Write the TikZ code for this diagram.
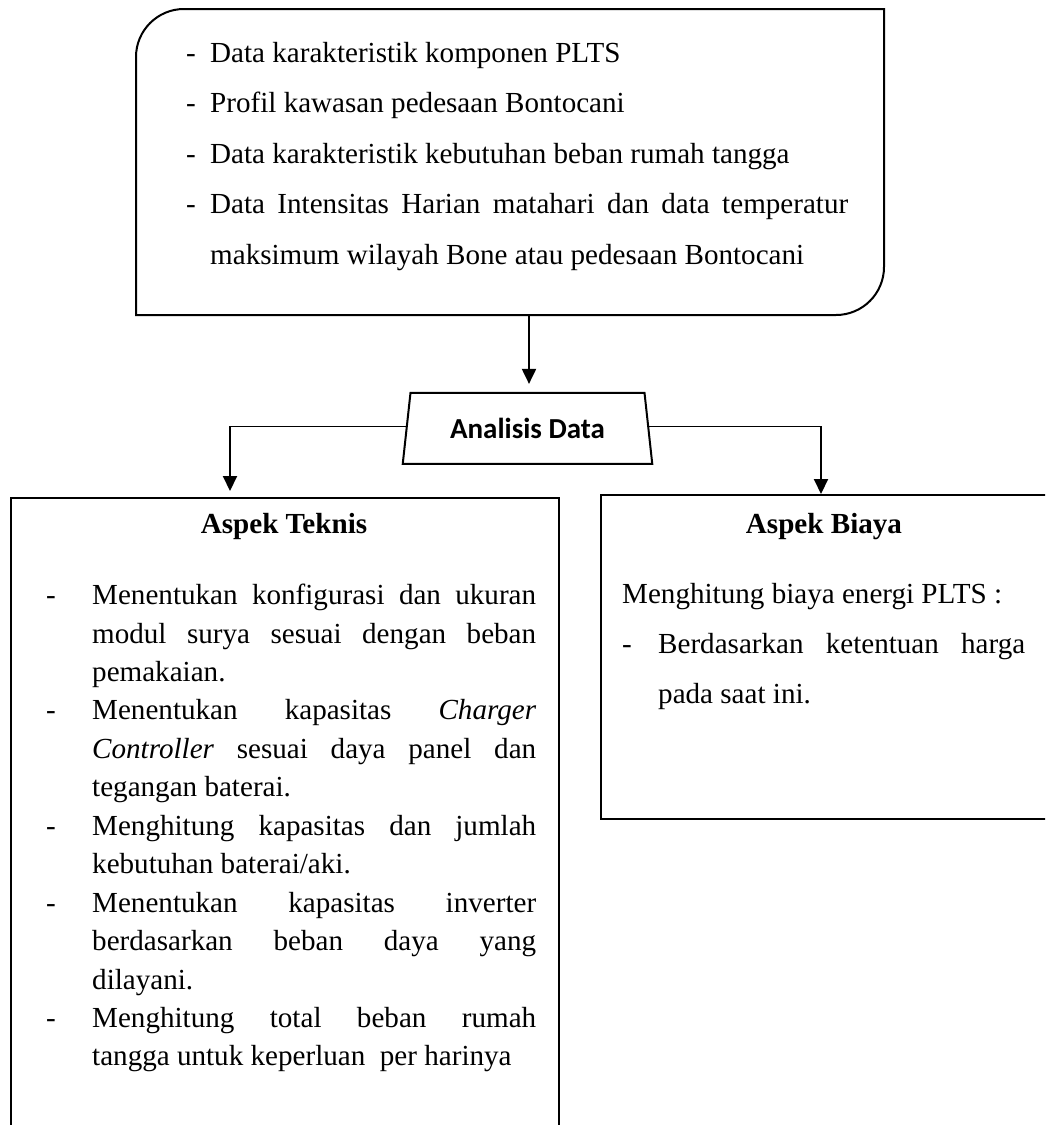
\documentclass[tikz,border=0pt]{standalone}
\usepackage{fontspec}
\setmainfont{Liberation Serif}
\newfontfamily\calibrifont{Carlito}
\usetikzlibrary{arrows.meta,shapes.geometric}
\newcommand\bodysize{\fontsize{29.1pt}{33.5pt}\selectfont}
\newcommand\jline[2]{\makebox[#1pt][s]{#2}}
\begin{document}
\begin{tikzpicture}[x=1pt,y=-1pt,
  boxline/.style={line width=2pt},
  thinline/.style={line width=1pt},
  arrowline/.style={line width=2pt,-{Triangle[length=15pt,width=14pt]}},
  txt/.style={anchor=base west,inner sep=0pt,font=\bodysize},
  head/.style={anchor=base,inner sep=0pt,font=\bodysize\bfseries},
  plainbox/.style={draw,boxline,anchor=north west,inner sep=0pt}]
\useasboundingbox (0,0) rectangle (1045,1125);
\fill[white] (0,0) rectangle (1045,1125);
\clip (0,0) rectangle (1045,1125);

% top data box (rounded top-left and bottom-right)
\draw[boxline] (136,200) [rounded corners=48pt] -- (136,9) -- (500,9)
  [sharp corners] -- (884,9) -- (884,200)
  [rounded corners=48pt] -- (884,315) -- (500,315)
  [sharp corners] -- (136,315) -- cycle;
\coordinate (topout) at (529,315);

\node[txt] (d1) at (186,62) {-};
\node[txt] (t1) at (210,62) {Data karakteristik komponen PLTS};
\node[txt] (d2) at (186,112.5) {-};
\node[txt] (t2) at (210,112.5) {Profil kawasan pedesaan Bontocani};
\node[txt] (d3) at (186,163) {-};
\node[txt] (t3) at (210,163) {Data karakteristik kebutuhan beban rumah tangga};
\node[txt] (d4) at (186,213.5) {-};
\node[txt] (t4) at (210,213.5) {\jline{638}{Data Intensitas Harian matahari dan data temperatur}};
\node[txt] (t5) at (210,264) {maksimum wilayah Bone atau pedesaan Bontocani};

% analysis trapezium
\node[draw,boxline,trapezium,trapezium stretches=true,
  trapezium left angle=76,trapezium right angle=76,
  minimum width=250pt,minimum height=71pt,inner sep=0pt,
  font=\calibrifont\bfseries\fontsize{29pt}{34pt}\selectfont] (ana) at (527.5,428.4) {Analisis Data};

\draw[arrowline,shorten >=8pt] (topout) -- (topout |- ana.north);

% result boxes
\node[plainbox,minimum width=548pt,minimum height=700pt] (tek) at (10,497) {};
\node[plainbox,minimum width=452pt,minimum height=324pt] (bia) at (600,494) {};

% connectors
\coordinate (lc) at (230,426);
\coordinate (rc) at (821,426);
\draw[thinline] (ana.west |- lc) -- (lc);
\draw[thinline] (ana.east |- rc) -- (rc);
\draw[arrowline,shorten >=6pt] (lc) -- (lc |- tek.north);
\draw[arrowline] (rc) -- (rc |- bia.north);

% Aspek Teknis
\node[head] (th) at (284,533) {Aspek Teknis};
\node[txt] (k1d) at (46,604.5) {-};
\node[txt] (k1) at (92,604.5) {\jline{444}{Menentukan konfigurasi dan ukuran}};
\node[txt] (k2) at (92,643) {\jline{444}{modul surya sesuai dengan beban}};
\node[txt] (k3) at (92,681.4) {pemakaian.};
\node[txt] (k4d) at (46,719.9) {-};
\node[txt] (k4) at (92,719.9) {\jline{444}{Menentukan kapasitas \textit{Charger}}};
\node[txt] (k5) at (92,758.3) {\jline{444}{\textit{Controller} sesuai daya panel dan}};
\node[txt] (k6) at (92,796.8) {tegangan baterai.};
\node[txt] (k7d) at (46,835.2) {-};
\node[txt] (k7) at (92,835.2) {\jline{444}{Menghitung kapasitas dan jumlah}};
\node[txt] (k8) at (92,873.7) {kebutuhan baterai/aki.};
\node[txt] (k9d) at (46,912.1) {-};
\node[txt] (k9) at (92,912.1) {\jline{444}{Menentukan kapasitas inverter}};
\node[txt] (k10) at (92,950.6) {\jline{444}{berdasarkan beban daya yang}};
\node[txt] (k11) at (92,989) {dilayani.};
\node[txt] (k12d) at (46,1027.5) {-};
\node[txt] (k12) at (92,1027.5) {\jline{444}{Menghitung total beban rumah}};
\node[txt] (k13) at (92,1065.9) {tangga untuk keperluan\ \ per harinya};

% Aspek Biaya
\node[head] (bh) at (824,533) {Aspek Biaya};
\node[txt] (b1) at (622,603) {Menghitung biaya energi PLTS :};
\node[txt] (b2d) at (622,653) {-};
\node[txt] (b2) at (658,653) {\jline{367}{Berdasarkan ketentuan harga}};
\node[txt] (b3) at (658,703) {pada saat ini.};
\end{tikzpicture}
\end{document}
